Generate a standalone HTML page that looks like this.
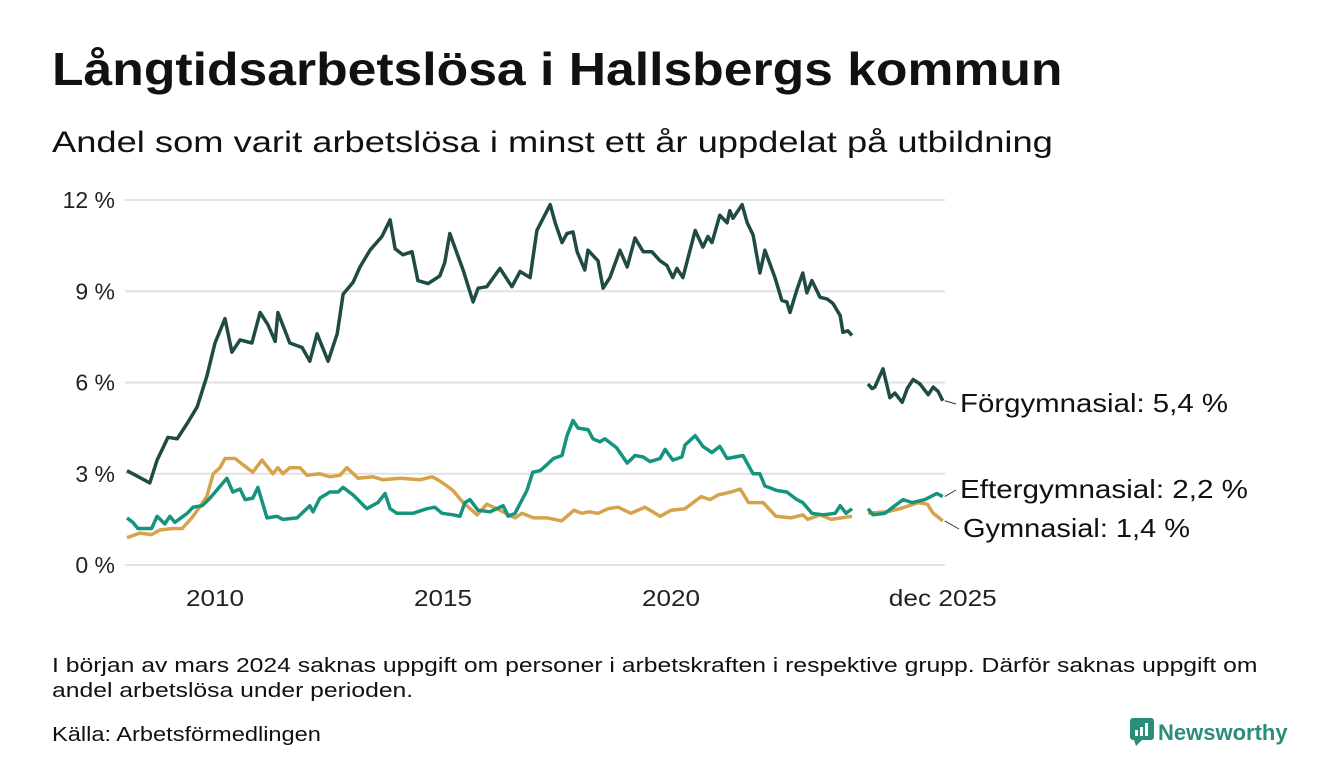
<!DOCTYPE html>
<html><head><meta charset="utf-8"><style>
body{margin:0;background:#fff;font-family:"Liberation Sans",sans-serif;color:#111}
#wrap{position:relative;width:1340px;height:780px;overflow:hidden}
.t{position:absolute;white-space:nowrap;transform-origin:0 0}
</style></head><body>
<div id="wrap">
<div class="t" style="left:52px;top:42px;font-size:46px;font-weight:bold;transform:scaleX(1.123)">Långtidsarbetslösa i Hallsbergs kommun</div>
<div class="t" style="left:52px;top:126px;font-size:30px;transform:scaleX(1.21)">Andel som varit arbetslösa i minst ett år uppdelat på utbildning</div>
<svg id="chart" width="1340" height="640" style="position:absolute;left:0;top:0"></svg>
<div class="t" style="left:52px;top:654px;font-size:20px;line-height:25px;transform:scaleX(1.235)">I början av mars 2024 saknas uppgift om personer i arbetskraften i respektive grupp. Därför saknas uppgift om<br>andel arbetslösa under perioden.</div>
<div class="t" style="left:52px;top:724px;font-size:20px;transform:scaleX(1.18)">Källa: Arbetsförmedlingen</div>
<div class="t" style="left:1130px;top:718px;font-size:22px;font-weight:bold;color:#2a8c7a;">
<svg width="24" height="28" style="vertical-align:-6px;margin-right:4px"><rect x="0" y="0" width="24" height="22" rx="3" fill="#2a8c7a"/><polygon points="4,22 12,22 6,28" fill="#2a8c7a"/><rect x="5" y="12" width="3" height="6" fill="#fff"/><rect x="10" y="9" width="3" height="9" fill="#fff"/><rect x="15" y="5" width="3" height="13" fill="#fff"/></svg>Newsworthy</div>
</div>
<script>
const yTicks=[0,3,6,9,12];
const xTicks=[2010,2015,2020,2025.96];
const xTickLabels=["2010","2015","2020","dec 2025"];
const forDates=[2008.07,2008.57,2008.73,2008.97,2009.17,2009.41,2009.61,2009.82,2010.0,2010.22,2010.37,2010.55,2010.81,2010.99,2011.16,2011.32,2011.38,2011.64,2011.91,2012.08,2012.24,2012.48,2012.68,2012.81,2013.03,2013.18,2013.4,2013.66,2013.84,2013.95,2014.12,2014.32,2014.45,2014.67,2014.93,2015.04,2015.15,2015.44,2015.66,2015.77,2015.96,2016.25,2016.51,2016.69,2016.91,2017.06,2017.35,2017.46,2017.61,2017.72,2017.85,2017.94,2018.11,2018.18,2018.4,2018.51,2018.66,2018.88,2019.04,2019.21,2019.39,2019.58,2019.76,2019.91,2020.04,2020.13,2020.26,2020.53,2020.7,2020.81,2020.9,2021.07,2021.23,2021.29,2021.36,2021.56,2021.67,2021.8,2021.95,2022.06,2022.28,2022.43,2022.54,2022.61,2022.76,2022.89,2022.98,2023.09,2023.27,2023.42,2023.55,2023.71,2023.77,2023.88,2023.97,null,2024.32,2024.41,2024.47,2024.65,2024.8,2024.91,2025.07,2025.18,2025.31,2025.46,2025.64,2025.75,2025.86,2025.96];
const forVals=[3.1,2.7,3.45,4.2,4.15,4.7,5.2,6.2,7.3,8.1,7.0,7.4,7.3,8.3,7.9,7.35,8.3,7.3,7.15,6.7,7.6,6.7,7.6,8.9,9.3,9.8,10.35,10.8,11.35,10.4,10.2,10.3,9.35,9.25,9.5,9.95,10.9,9.7,8.65,9.1,9.15,9.75,9.15,9.65,9.45,11.0,11.85,11.25,10.6,10.9,10.95,10.3,9.7,10.35,10.0,9.1,9.45,10.35,9.8,10.75,10.3,10.3,10.0,9.85,9.45,9.75,9.45,11.0,10.45,10.8,10.6,11.5,11.25,11.65,11.4,11.85,11.25,10.85,9.6,10.35,9.45,8.7,8.65,8.3,9.05,9.6,8.95,9.35,8.8,8.75,8.6,8.2,7.65,7.7,7.55,null,5.95,5.8,5.85,6.45,5.5,5.65,5.35,5.8,6.1,5.95,5.6,5.85,5.7,5.4];
const gymDates=[2008.07,2008.35,2008.61,2008.79,2009.08,2009.28,2009.52,2009.82,2009.96,2010.11,2010.22,2010.44,2010.61,2010.83,2011.03,2011.27,2011.38,2011.49,2011.64,2011.86,2012.02,2012.3,2012.52,2012.74,2012.89,2013.14,2013.47,2013.68,2014.06,2014.5,2014.76,2014.89,2015.04,2015.22,2015.44,2015.75,2015.96,2016.25,2016.58,2016.73,2016.99,2017.29,2017.6,2017.87,2018.04,2018.2,2018.4,2018.62,2018.84,2019.12,2019.43,2019.76,2020.0,2020.31,2020.66,2020.86,2021.03,2021.32,2021.52,2021.7,2022.02,2022.3,2022.63,2022.89,2023.0,2023.27,2023.51,2023.97,null,2024.32,2024.74,2025.02,2025.42,2025.62,2025.75,2025.96];
const gymVals=[0.9,1.05,1.0,1.15,1.2,1.2,1.6,2.25,3.0,3.2,3.5,3.5,3.3,3.05,3.45,3.0,3.2,3.0,3.2,3.2,2.95,3.0,2.9,2.95,3.2,2.85,2.9,2.8,2.85,2.8,2.9,2.8,2.65,2.45,2.05,1.65,2.0,1.8,1.55,1.7,1.55,1.55,1.45,1.8,1.7,1.75,1.7,1.85,1.9,1.7,1.9,1.6,1.8,1.85,2.25,2.15,2.3,2.4,2.5,2.05,2.05,1.6,1.55,1.65,1.5,1.65,1.5,1.6,null,1.7,1.75,1.85,2.05,2.0,1.7,1.45];
const eftDates=[2008.07,2008.2,2008.31,2008.61,2008.73,2008.9,2009.01,2009.12,2009.39,2009.52,2009.72,2009.89,2010.26,2010.39,2010.55,2010.66,2010.83,2010.94,2011.14,2011.36,2011.49,2011.8,2012.08,2012.15,2012.3,2012.52,2012.7,2012.81,2013.03,2013.33,2013.57,2013.73,2013.84,2013.99,2014.34,2014.65,2014.82,2014.98,2015.22,2015.37,2015.48,2015.59,2015.77,2016.03,2016.32,2016.43,2016.58,2016.84,2016.97,2017.13,2017.28,2017.42,2017.61,2017.72,2017.85,2017.96,2018.18,2018.29,2018.44,2018.55,2018.81,2019.04,2019.21,2019.39,2019.54,2019.76,2019.87,2020.04,2020.24,2020.31,2020.53,2020.7,2020.9,2021.07,2021.23,2021.58,2021.8,2021.95,2022.06,2022.32,2022.54,2022.76,2022.89,2023.09,2023.33,2023.6,2023.71,2023.84,2023.97,null,2024.32,2024.43,2024.69,2024.91,2025.09,2025.29,2025.57,2025.83,2025.96];
const eftVals=[1.55,1.4,1.2,1.2,1.6,1.35,1.6,1.4,1.7,1.9,1.95,2.2,2.85,2.4,2.5,2.15,2.2,2.55,1.55,1.6,1.5,1.55,1.95,1.75,2.2,2.4,2.4,2.55,2.3,1.85,2.05,2.35,1.85,1.7,1.7,1.85,1.9,1.7,1.65,1.6,2.05,2.15,1.8,1.75,1.95,1.6,1.7,2.45,3.05,3.1,3.3,3.5,3.6,4.25,4.75,4.5,4.45,4.15,4.05,4.15,3.85,3.35,3.6,3.55,3.4,3.5,3.8,3.45,3.55,3.95,4.25,3.9,3.7,3.9,3.5,3.6,3.0,3.0,2.6,2.45,2.4,2.15,2.05,1.7,1.65,1.7,1.95,1.7,1.85,null,1.85,1.65,1.7,1.95,2.15,2.05,2.15,2.35,2.25];

const NS='http://www.w3.org/2000/svg';
const svg=document.getElementById('chart');
const X0=125,X1=943,Y0=565,Y12=200;
const xs=y=>215+(y-2010)*45.6;
const ys=v=>Y0-(v/12)*(Y0-Y12);
function mk(tag,attrs){const e=document.createElementNS(NS,tag);for(const k in attrs)e.setAttribute(k,attrs[k]);svg.appendChild(e);return e;}
yTicks.forEach(t=>{
  const l=mk('line',{x1:X0,x2:945,y1:ys(t),y2:ys(t),stroke:'#e2e2e6','stroke-width':2});
  
  
  const tx=mk('text',{x:115,y:ys(t)+8,'text-anchor':'end','font-size':23,fill:'#222','font-family':'Liberation Sans, sans-serif'});
  tx.textContent=t+' %';
  
  
});
xTicks.forEach((t,i)=>{
  const tx=mk('text',{x:xs(t),y:606,'text-anchor':'middle','font-size':23,fill:'#222','font-family':'Liberation Sans, sans-serif',textLength:i==3?108:58,lengthAdjust:'spacingAndGlyphs'});
  tx.textContent=xTickLabels[i];
  
  
});
function line(dates,vals,color,name){
  let d='',pen=false;
  dates.forEach((t,i)=>{if(t===null||vals[i]===null){pen=false;return;}d+=(pen?'L':'M')+xs(t).toFixed(1)+','+ys(vals[i]).toFixed(1);pen=true;});
  const p=mk('path',{d:d,fill:'none',stroke:color,'stroke-width':3.5,'stroke-linejoin':'round'});
  
  
}
line(gymDates,gymVals,'#d6a24c','series-gymnasial');
line(eftDates,eftVals,'#14947f','series-eftergymnasial');
line(forDates,forVals,'#1f4b44','series-forgymnasial');
function label(v,ly,txt,name,lx,w){
  const ex=xs(2025.96);
  const l=mk('line',{x1:ex+2,y1:ys(v),x2:lx-4,y2:ly-8,stroke:'#333','stroke-width':1});
  
  
  const tx=mk('text',{x:lx,y:ly,'font-size':26,fill:'#111','font-family':'Liberation Sans, sans-serif',textLength:w,lengthAdjust:'spacingAndGlyphs'});
  tx.textContent=txt;
  
  
}
label(forVals[forVals.length-1],412,'Förgymnasial: 5,4 %','label-forgymnasial',960,268);
label(eftVals[eftVals.length-1],498,'Eftergymnasial: 2,2 %','label-eftergymnasial',960,288);
label(gymVals[gymVals.length-1],537,'Gymnasial: 1,4 %','label-gymnasial',963,227);
</script>
</body></html>
